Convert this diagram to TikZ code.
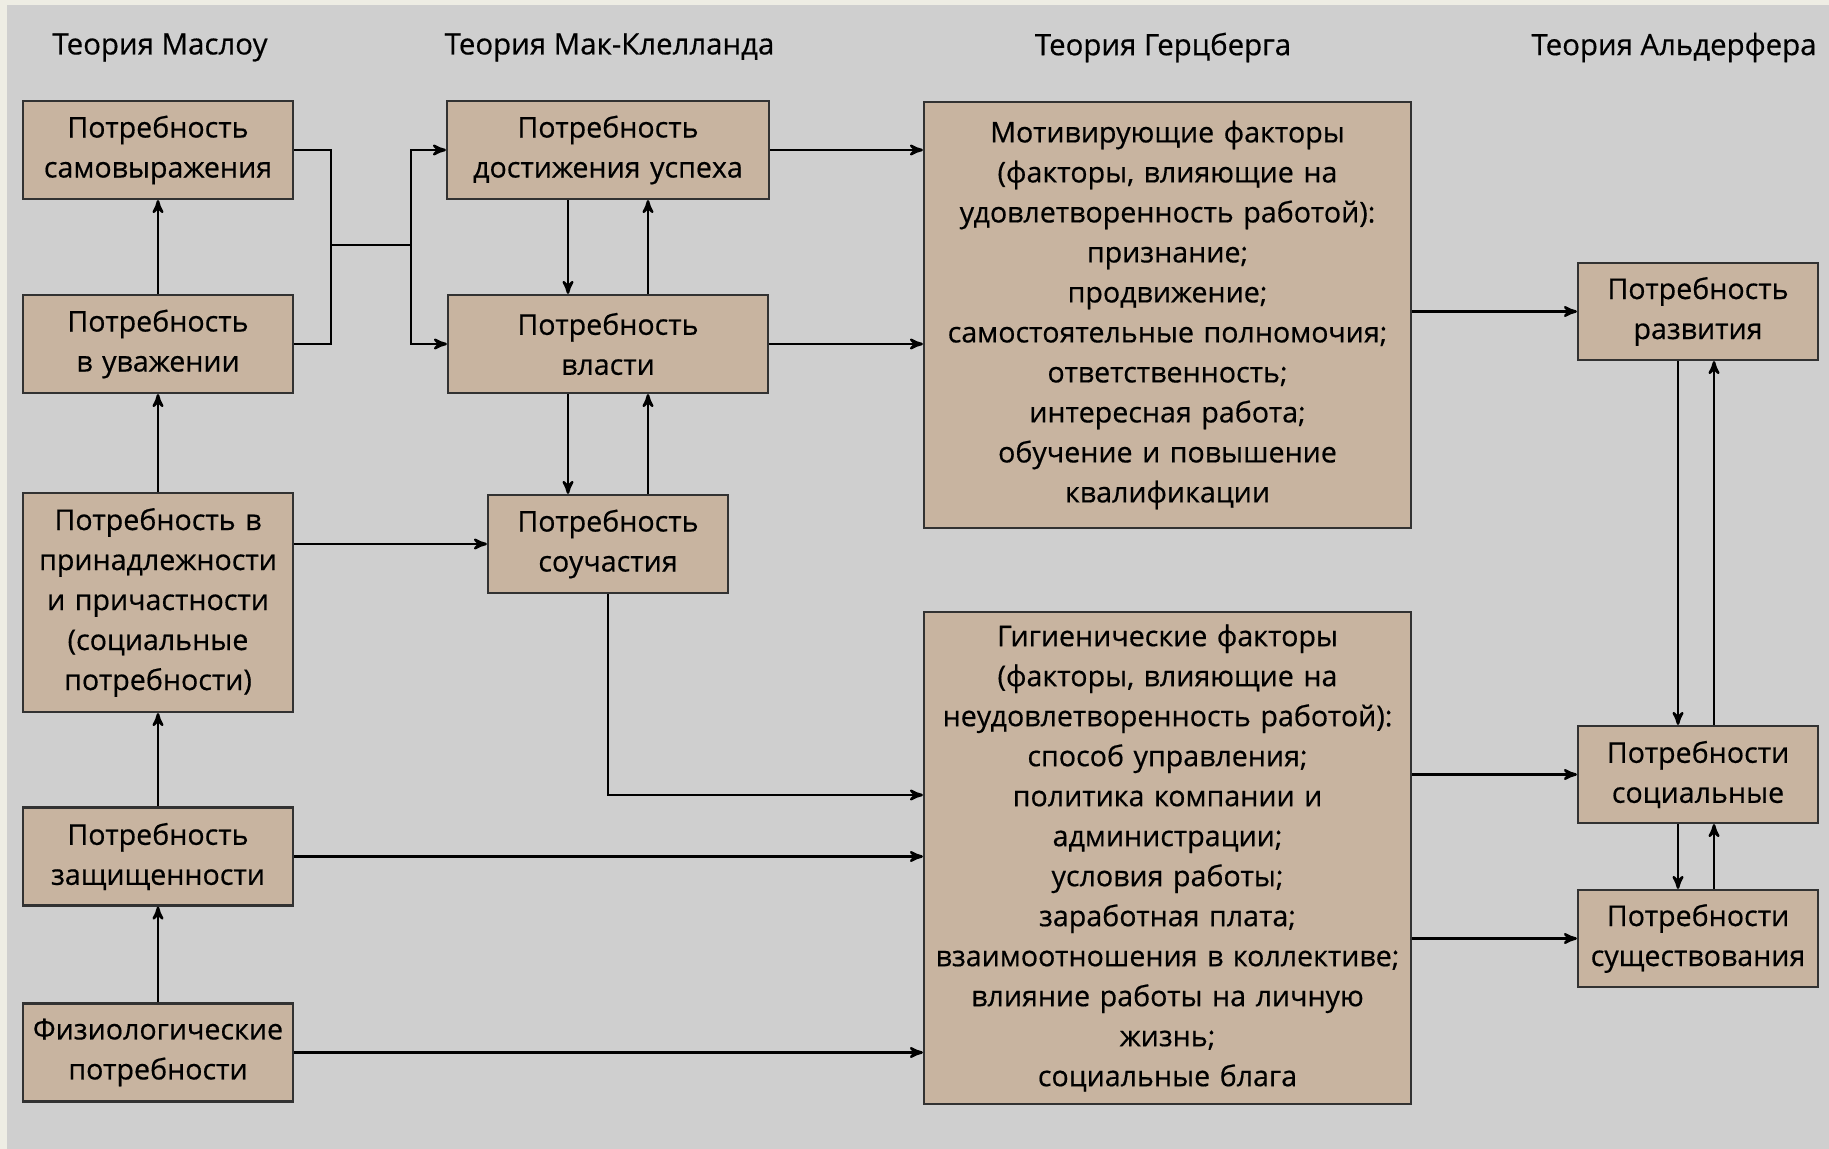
\documentclass[tikz,border=0pt]{standalone}
\usepackage{fontspec}
\setmainfont{Open Sans}[FakeBold=0.5]
\usetikzlibrary{arrows}
\definecolor{boxfill}{RGB}{200,180,160}
\definecolor{bggray}{RGB}{207,207,207}
\definecolor{creamedge}{RGB}{238,237,228}
\definecolor{boxline}{RGB}{50,50,50}
\tikzstyle{need} = [rectangle, draw=boxline, line width=1.1pt, fill=boxfill,
    inner sep=0pt, text centered, font=\fontsize{14.3}{20}\selectfont]
\tikzstyle{theory} = [font=\fontsize{14.7}{20}\selectfont]

\begin{document}
\begin{tikzpicture}[->,>=stealth',x=0.5pt,y=0.5pt,line width=1.25pt,
                    node distance=97pt]

  \fill[creamedge,-] (0,0) rectangle (1829,-1149);
  \fill[bggray,-] (7,-5) rectangle (1829,-1149);
  \useasboundingbox (0,0) rectangle (1829,-1149);

  \node[theory] (t1) at (160,-47.5)   {Теория Маслоу};
  \node[theory] (t2) at (609.5,-47.5) {Теория Мак-Клелланда};
  \node[theory] (t3) at (1163,-47.5)  {Теория Герцберга};
  \node[theory] (t4) at (1674,-47.5)  {Теория Альдерфера};

  \node[need,text width=135pt,minimum height=49pt]    (m1) at (158,-150) {Потребность\\самовыражения};
  \node[need,text width=135pt,minimum height=49pt]    (m2) [below of=m1] {Потребность\\в уважении};
  \node[need,text width=135pt,minimum height=109.5pt] (m3) [below of=m2,yshift=-32.25pt] {Потребность в\\принадлежности\\и причастности\\(социальные\\потребности)};
  \node[need,text width=135pt,minimum height=49pt]    (m4) [below of=m3,yshift=-30pt] {Потребность\\защищенности};
  \node[need,text width=135pt,minimum height=49pt]    (m5) [below of=m4,yshift=-1pt] {Физиологические\\потребности};

  \node[need,text width=161pt,minimum height=49pt] (k1) at (608,-150) {Потребность\\достижения успеха};
  \node[need,text width=160pt,minimum height=49pt] (k2) [below of=k1] {Потребность\\власти};
  \node[need,text width=120pt,minimum height=49pt] (k3) [below of=k2,yshift=-3pt] {Потребность\\соучастия};

  \node[need,text width=243.5pt,minimum height=213pt] (h1) at (1167.5,-315) {Мотивирующие факторы\\(факторы, влияющие на\\удовлетворенность работой):\\признание;\\продвижение;\\самостоятельные полномочия;\\ответственность;\\интересная работа;\\обучение и повышение\\квалификации};
  \node[need,text width=243.5pt,minimum height=246pt] (h2) at (1167.5,-858) {Гигиенические факторы\\(факторы, влияющие на\\неудовлетворенность работой):\\способ управления;\\политика компании и\\администрации;\\условия работы;\\заработная плата;\\взаимоотношения в коллективе;\\влияние работы на личную\\жизнь;\\социальные блага};

  \node[need,text width=120pt,minimum height=48.5pt] (a1) at (1698,-311.5) {Потребность\\развития};
  \node[need,text width=120pt,minimum height=48.5pt] (a2) at (1698,-774.5) {Потребности\\социальные};
  \node[need,text width=120pt,minimum height=48.5pt] (a3) [below of=a2,yshift=15pt] {Потребности\\существования};

  \path (m2) edge (m1)
        (m3) edge (m2)
        (m4) edge (m3)
        (m5) edge (m4);

  \coordinate (jl) at (331,-245);
  \coordinate (jr) at (411,-245);
  \draw[-] (m1.east) -| (jl) |- (m2.east);
  \draw[-] (jl) -- (jr);
  \draw (jr) |- (k1.west);
  \draw (jr) |- (k2.west);

  \path (k1.east) edge (k1.east -| h1.west)
        (k2.east) edge (k2.east -| h1.west);
  \draw ([xshift=-20pt]k1.south) -- ([xshift=-20pt]k2.north);
  \draw ([xshift=20pt]k2.north) -- ([xshift=20pt]k1.south);
  \draw ([xshift=-20pt]k2.south) -- ([xshift=-20pt]k3.north);
  \draw ([xshift=20pt]k3.north) -- ([xshift=20pt]k2.south);

  \draw (k3.west -| m3.east) -- (k3.west);
  \draw (k3.south) |- ([yshift=31.5pt]h2.west);
  \draw (m4.east) -- (m4.east -| h2.west);
  \draw (m5.east) -- (m5.east -| h2.west);

  \draw (a1.west -| h1.east) -- (a1.west);
  \draw (a2.west -| h2.east) -- (a2.west);
  \draw (a3.west -| h2.east) -- (a3.west);
  \draw ([xshift=-10pt]a1.south) -- ([xshift=-10pt]a2.north);
  \draw ([xshift=8pt]a2.north) -- ([xshift=8pt]a1.south);
  \draw ([xshift=-10pt]a2.south) -- ([xshift=-10pt]a3.north);
  \draw ([xshift=8pt]a3.north) -- ([xshift=8pt]a2.south);
\end{tikzpicture}
\end{document}
